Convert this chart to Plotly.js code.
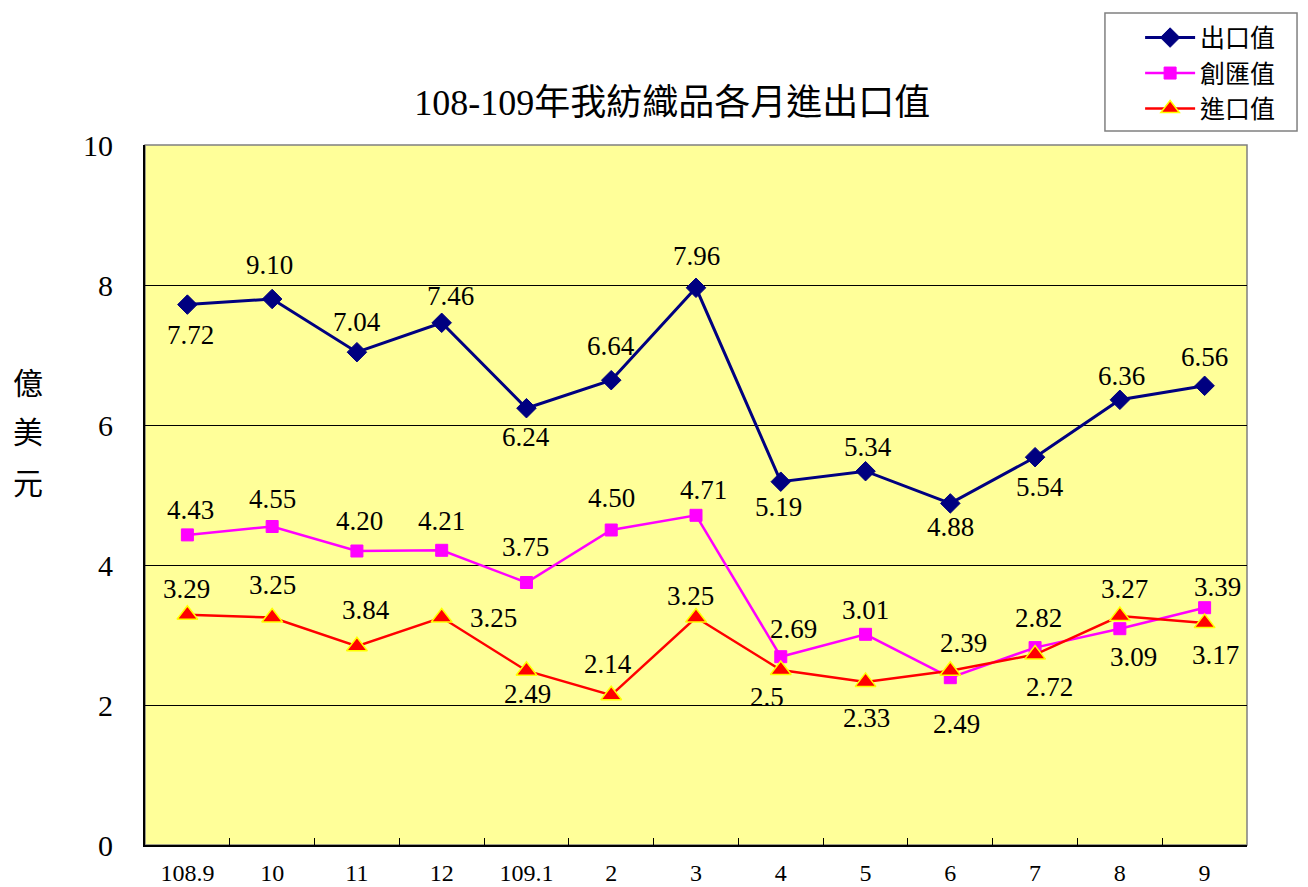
<!DOCTYPE html>
<html>
<head>
<meta charset="utf-8">
<script src="https://cdn.plot.ly/plotly-3.0.1.min.js"></script>
<style>html,body{margin:0;padding:0;background:#fff;}#chart{width:1308px;height:887px;}</style>
</head>
<body>
<div id="chart"></div>
<script>
// ---- data ----
const months = ["108.9","10","11","12","109.1","2","3","4","5","6","7","8","9"];
const exportVals  = [7.72, 7.80, 7.04, 7.46, 6.24, 6.64, 7.96, 5.19, 5.34, 4.88, 5.54, 6.36, 6.56];
const exportLabels = ["7.72","9.10","7.04","7.46","6.24","6.64","7.96","5.19","5.34","4.88","5.54","6.36","6.56"];
const surplusVals = [4.43, 4.55, 4.20, 4.21, 3.75, 4.50, 4.71, 2.69, 3.01, 2.39, 2.82, 3.09, 3.39];
const surplusLabels = ["4.43","4.55","4.20","4.21","3.75","4.50","4.71","2.69","3.01","2.39","2.82","3.09","3.39"];
const importVals  = [3.29, 3.25, 2.84, 3.25, 2.49, 2.14, 3.25, 2.50, 2.33, 2.49, 2.72, 3.27, 3.17];
const importLabels = ["3.29","3.25","3.84","3.25","2.49","2.14","3.25","2.5","2.33","2.49","2.72","3.27","3.17"];
const seriesNames = ["出口值","創匯值","進口值"];
const titleText = "108-109年我紡織品各月進出口值";
const yTitleChars = ["億","美","元"];

// ---- label placement (pixel offsets, layout only) ----
const exportDX  = [3,-3,0,9,0,0,0,-2,2,0,5,2,0];
const exportDY  = [-30,34,30,27,-29,34,32,-25,24,-24,-30,24,29];
const surplusDX = [3,0,3,0,-1,0,7,13,0,13,3,14,13];
const surplusDY = [25,28,30,29,36,32,25,28,24,35,30,-28,21];
const importDX  = [-1,0,9,52,1,-3,-6,-14,1,6,14,5,11];
const importDY  = [26,33,36,0,-23,31,22,-27,-36,-53,-32,27,-32];

const FONT = "Liberation Serif, Times New Roman, Noto Sans CJK TC, serif";
const CJK = "Liberation Serif, Noto Sans CJK TC, serif";

const traces = [
  {x: months, y: exportVals, name: seriesNames[0], type: 'scatter', mode: 'lines+markers',
   line: {color: '#000080', width: 3},
   marker: {symbol: 'diamond', size: 15, color: '#000080', line: {color: '#000080', width: 1}}},
  {x: months, y: surplusVals, name: seriesNames[1], type: 'scatter', mode: 'lines+markers',
   line: {color: '#FF00FF', width: 2.5},
   marker: {symbol: 'square', size: 12, color: '#FF00FF', line: {color: '#FF00FF', width: 1}}},
  {x: months, y: importVals, name: seriesNames[2], type: 'scatter', mode: 'lines+markers',
   line: {color: '#FF0000', width: 2.5},
   marker: {symbol: 'triangle-up', size: 18, color: '#FF0000', line: {color: '#FFFF00', width: 1.5}}}
];

const annotations = [];
function addLabels(vals, labels, dx, dy) {
  for (let i = 0; i < months.length; i++) {
    annotations.push({x: i, y: vals[i], xref: 'x', yref: 'y', text: labels[i],
      showarrow: false, xanchor: 'center', yanchor: 'middle', xshift: dx[i], yshift: dy[i],
      font: {family: FONT, size: 27, color: '#000'}});
  }
}
addLabels(exportVals, exportLabels, exportDX, exportDY);
addLabels(surplusVals, surplusLabels, surplusDX, surplusDY);
addLabels(importVals, importLabels, importDX, importDY);

const yTitleY = [0.66, 0.5886, 0.517];
yTitleChars.forEach((c, i) => {
  annotations.push({x: -0.106, y: yTitleY[i], xref: 'paper', yref: 'paper', text: c, showarrow: false,
    xanchor: 'center', yanchor: 'middle', font: {family: CJK, size: 30, color: '#000'}});
});

const layout = {
  width: 1308, height: 887,
  margin: {l: 145, r: 61, t: 145, b: 42, autoexpand: false},
  paper_bgcolor: '#FFFFFF',
  plot_bgcolor: '#FFFF99',
  font: {family: FONT, color: '#000'},
  title: {text: titleText, x: 0.514, xref: 'container', xanchor: 'center',
          y: 0.884, yref: 'container', yanchor: 'middle',
          font: {family: CJK, size: 36, color: '#000'}},
  xaxis: {type: 'category', categoryorder: 'array', categoryarray: months,
          range: [-0.5, 12.5], autorange: false, tickangle: 0,
          showgrid: false, zeroline: false, showline: true, linecolor: '#000', linewidth: 2,
          ticks: 'inside', tickson: 'boundaries', ticklen: 7, tickcolor: '#000', tickwidth: 1,
          tickfont: {family: FONT, size: 24, color: '#000'}, ticklabelstandoff: 5},
  yaxis: {range: [0, 10], autorange: false, dtick: 2, tick0: 0, showgrid: true, gridcolor: '#000', gridwidth: 1,
          zeroline: false, showline: true, linecolor: '#000', linewidth: 2,
          ticks: 'inside', ticklen: 7, tickcolor: '#000', tickwidth: 1,
          tickfont: {family: FONT, size: 30, color: '#000'}, ticklabelstandoff: 24},
  shapes: [
    {type: 'rect', xref: 'paper', yref: 'paper', x0: 0, x1: 1, y0: 0, y1: 1,
     line: {color: '#808080', width: 1.5}, fillcolor: 'rgba(0,0,0,0)', layer: 'below'},
    {type: 'rect', xref: 'paper', yref: 'paper', x0: 0.8711, x1: 1.0454, y0: 1.02, y1: 1.1886,
     line: {color: '#808080', width: 1.5}, fillcolor: '#FFFFFF', layer: 'below'}
  ],
  showlegend: true,
  legend: {x: 0.903, y: 1.186, xanchor: 'left', yanchor: 'top', xref: 'paper', yref: 'paper',
           bgcolor: 'rgba(0,0,0,0)', borderwidth: 0, itemwidth: 50,
           font: {family: CJK, size: 25, color: '#000'}},
  annotations: annotations
};

Plotly.newPlot('chart', traces, layout, {displayModeBar: false, staticPlot: true});
</script>
</body>
</html>
